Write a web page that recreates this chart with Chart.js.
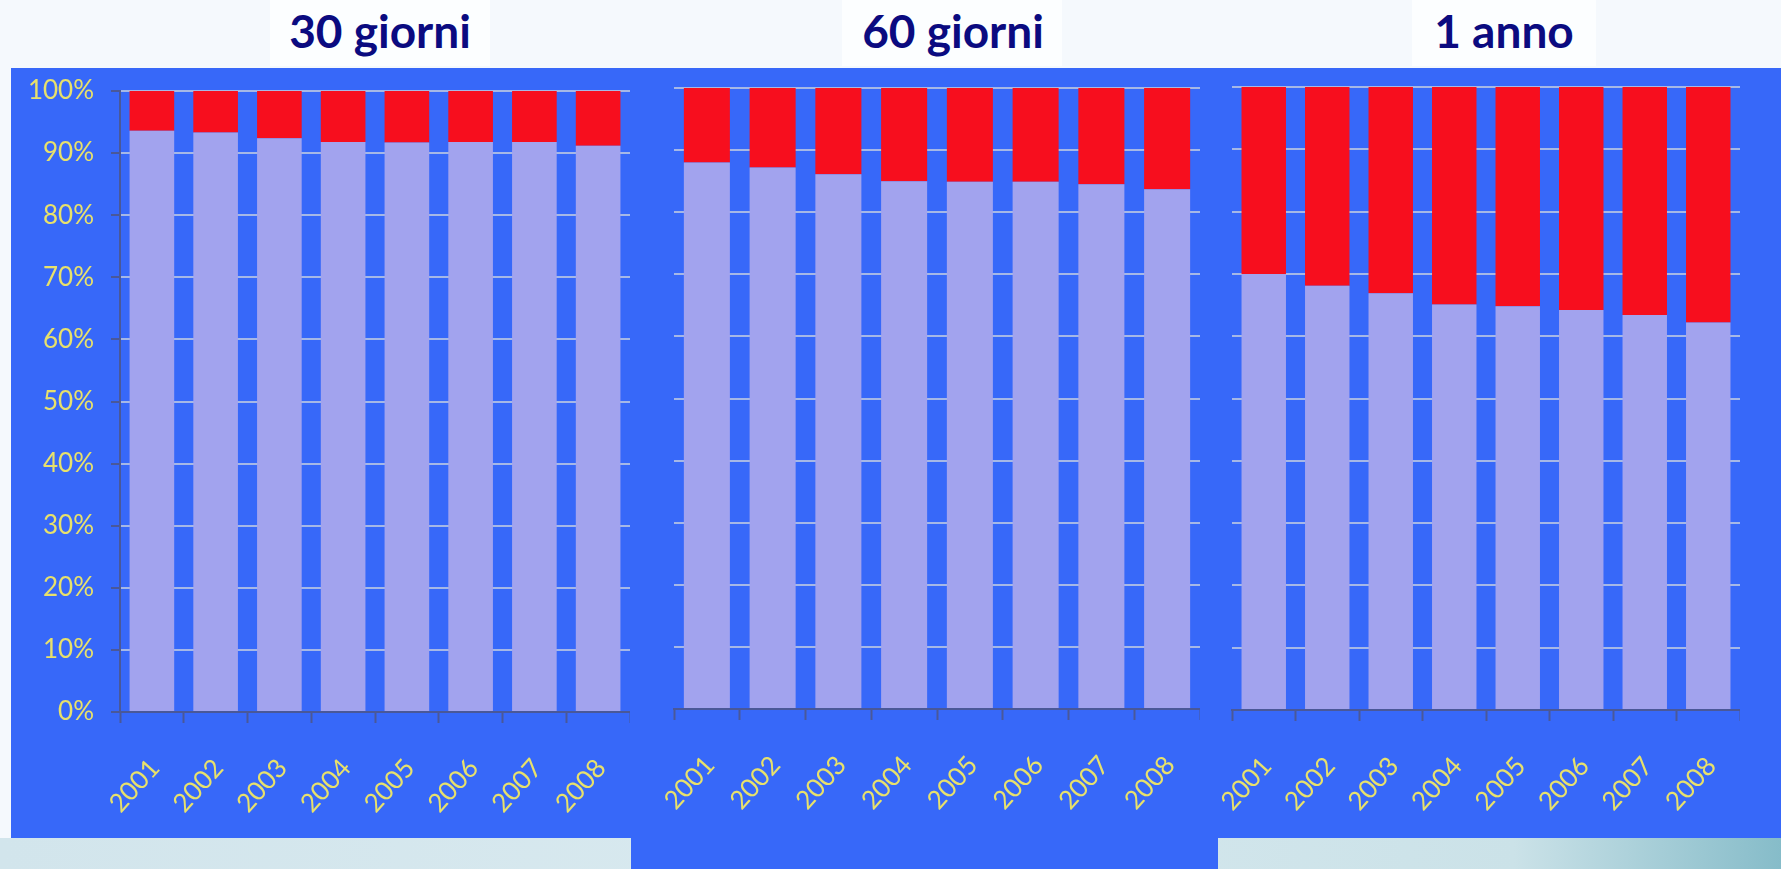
<!DOCTYPE html>
<html>
<head>
<meta charset="utf-8">
<script src="https://cdn.jsdelivr.net/npm/chart.js@4/dist/chart.umd.min.js"></script>
<style>
  html, body { margin: 0; padding: 0; }
  body {
    width: 1781px; height: 869px; position: relative; overflow: hidden;
    background: #f5f9fd;
    font-family: Lato, "Open Sans", sans-serif;
  }
  .strip {
    position: absolute; left: 0; top: 838px; width: 1781px; height: 31px;
    background: linear-gradient(90deg, #d2e5ec 0%, #d8e9ef 45%, #cbe2e8 85%, #86bcc9 100%);
  }
  .panel { position: absolute; background: #3768f9; }
  .title-box { position: absolute; top: 0; height: 66px; background: #fcfeff; }
  .title {
    position: absolute; top: 3px; height: 55px; line-height: 55px;
    font-weight: 700; font-size: 46px; color: #0b0b80; white-space: nowrap;
    text-align: center;
  }
  .box { position: absolute; }
</style>
</head>
<body>
<div class="strip"></div>
<div class="panel" style="left:11px; top:68px; width:1770px; height:770px;"></div>
<div class="panel" style="left:631px; top:838px; width:587px; height:31px;"></div>

<div class="title-box" style="left:270px; width:220px;"></div>
<div class="title-box" style="left:842px; width:220px;"></div>
<div class="title-box" style="left:1412px; width:184px;"></div>
<div class="title" style="left:230px; width:300px;">30 giorni</div>
<div class="title" style="left:803px; width:300px;">60 giorni</div>
<div class="title" style="left:1354px; width:300px;">1 anno</div>

<div class="box" style="left:10px; top:60px; width:620px; height:760px;"><canvas id="c30"></canvas></div>
<div class="box" style="left:640px; top:60px; width:560px; height:757px;"><canvas id="c60"></canvas></div>
<div class="box" style="left:1200px; top:60px; width:540px; height:758px;"><canvas id="c365"></canvas></div>

<script>
// Years on the x axis
const years = ['2001', '2002', '2003', '2004', '2005', '2006', '2007', '2008'];

// Percentage tick labels on the y axis (0% .. 100%, step 10)
const percentLabels = ['0%', '10%', '20%', '30%', '40%', '50%', '60%', '70%', '80%', '90%', '100%'];

// 30 giorni: share (%) of the lower (lavender) and upper (red) segment
const lower30 = [93.6, 93.3, 92.4, 91.8, 91.7, 91.8, 91.8, 91.2];
const upper30 = [6.4, 6.7, 7.6, 8.2, 8.3, 8.2, 8.2, 8.8];

// 60 giorni
const lower60 = [88.0, 87.2, 86.1, 85.0, 84.9, 84.9, 84.5, 83.7];
const upper60 = [12.0, 12.8, 13.9, 15.0, 15.1, 15.1, 15.5, 16.3];

// 1 anno
const lower365 = [70.0, 68.1, 66.9, 65.1, 64.8, 64.2, 63.4, 62.2];
const upper365 = [30.0, 31.9, 33.1, 34.9, 35.2, 35.8, 36.6, 37.8];

const LAVENDER = '#a2a3ee';
const RED = '#f70e1e';
const YELLOW = '#e8e16b';
const GRID = '#a6b8e6';
const AXIS = '#4a5898';

function makeChart(id, lower, upper, cfg) {
  new Chart(document.getElementById(id), {
    type: 'bar',
    data: {
      labels: years,
      datasets: [
        { data: lower, backgroundColor: LAVENDER, borderWidth: 0,
          barPercentage: 0.7, categoryPercentage: 1.0 },
        { data: upper, backgroundColor: RED, borderWidth: 0,
          barPercentage: 0.7, categoryPercentage: 1.0 }
      ]
    },
    options: {
      responsive: true,
      maintainAspectRatio: false,
      animation: false,
      events: [],
      layout: { padding: { left: 0, right: 0, top: cfg.padTop, bottom: 0 } },
      plugins: { legend: { display: false }, tooltip: { enabled: false }, title: { display: false } },
      scales: {
        x: {
          stacked: true,
          offset: true,
          // fixed axis band; rotated labels may overhang the plot edges freely
          afterFit: s => { s.height = 108; s.paddingLeft = 0; s.paddingRight = 0; },
          border: { display: true, color: AXIS, width: 2 },
          grid: { offset: true, drawOnChartArea: false, drawTicks: true,
                  tickLength: 11, tickColor: AXIS, tickWidth: 2 },
          ticks: {
            color: YELLOW,
            font: { family: 'Lato', size: 26 },
            minRotation: 48, maxRotation: 48,
            padding: 30,
            labelOffset: 3,
            autoSkip: false
          }
        },
        y: {
          stacked: true,
          min: 0, max: 100,
          afterFit: s => { s.width = cfg.yWidth; s.paddingTop = 0; s.paddingBottom = 0; },
          border: { display: cfg.yAxisLine, color: AXIS, width: 2 },
          grid: { color: GRID, lineWidth: 2, drawTicks: cfg.yLabels,
                  tickLength: 9, tickColor: AXIS, tickWidth: 2 },
          ticks: {
            display: cfg.yLabels,
            stepSize: 10,
            color: YELLOW,
            font: { family: 'Lato', size: 26 },
            padding: 17,
            callback: v => percentLabels[Math.round(v / 10)]
          }
        }
      }
    }
  });
}

makeChart('c30', lower30, upper30, { padTop: 31, yWidth: 110, yLabels: true, yAxisLine: true });
makeChart('c60', lower60, upper60, { padTop: 28, yWidth: 34, yLabels: false, yAxisLine: false });
makeChart('c365', lower365, upper365, { padTop: 27, yWidth: 32, yLabels: false, yAxisLine: false });
</script>
</body>
</html>
